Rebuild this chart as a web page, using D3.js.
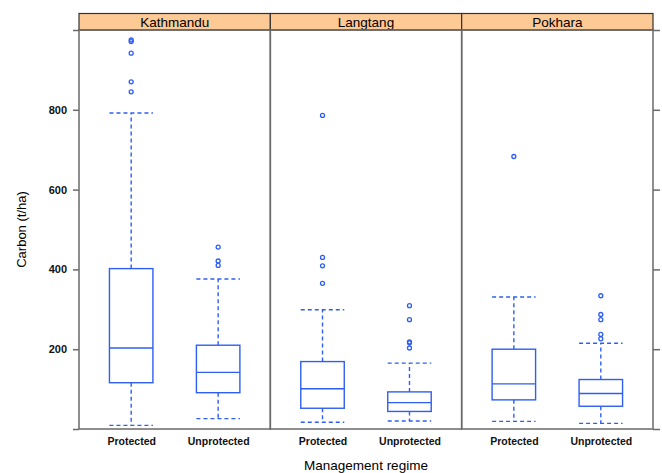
<!DOCTYPE html>
<html>
<head>
<meta charset="utf-8">
<script src="https://cdn.jsdelivr.net/npm/d3@7"></script>
<style>
  html, body { margin: 0; padding: 0; background: #fff; }
  svg { display: block; font-family: "Liberation Sans", Arial, sans-serif; }
</style>
</head>
<body>
<svg id="chart" width="662" height="473"></svg>
<script>
// Carbon stock (t/ha) by region and management regime
const regions = ["Kathmandu", "Langtang", "Pokhara"];
const regimes = ["Protected", "Unprotected"];

// Box statistics per region, in regime order: [Protected, Unprotected]
const whiskerLow  = [[9, 26],   [17, 20],  [19, 14]];
const lowerHinge  = [[116, 91], [52, 44],  [73, 57]];
const medians     = [[203, 142],[101, 66], [113, 89]];
const upperHinge  = [[402, 210],[169, 93], [200, 124]];
const whiskerHigh = [[792, 376],[299, 165],[331, 215]];
const outliers = [
  [[975, 971, 942, 870, 845], [456, 421, 410]],
  [[786, 430, 409, 365],      [309, 274, 218, 216, 203]],
  [[683],                     [334, 287, 274, 237, 226]]
];

const yTicks = [0, 200, 400, 600, 800, 1000];
const yLabelled = [200, 400, 600, 800];

const boxColor = "#2f5ff2";
const frameColor = "#6a6a6a";

const svg = d3.select("#chart");
const plotLeft = 79, plotRight = 653, plotTop = 30, plotBottom = 429;
const stripTop = 13.5;

const y = d3.scaleLinear().domain([0, 1000]).range([plotBottom, plotTop]);
const panelX = d3.scaleBand().domain(regions).range([plotLeft, plotRight]).padding(0);
const pw = panelX.bandwidth();
const xIn = d3.scaleLinear().domain([0.4, 2.6]).range([0, pw]);
const boxHalf = (xIn(1.25) - xIn(1));

regions.forEach((region, ri) => {
  const g = svg.append("g").attr("transform", `translate(${panelX(region)},0)`);

  // strip
  g.append("rect")
    .attr("x", 0).attr("y", stripTop)
    .attr("width", pw).attr("height", plotTop - stripTop)
    .attr("fill", "#fdc994").attr("stroke", "#333").attr("stroke-width", 1.2);
  g.append("text")
    .attr("x", pw / 2).attr("y", plotTop - 3.5)
    .attr("text-anchor", "middle")
    .attr("font-size", 13.5).attr("fill", "#000")
    .text(region);

  regimes.forEach((regime, gi) => {
    const cx = xIn(gi + 1);
    const lo = whiskerLow[ri][gi], q1 = lowerHinge[ri][gi], md = medians[ri][gi],
          q3 = upperHinge[ri][gi], hi = whiskerHigh[ri][gi];
    const bg = g.append("g").attr("stroke", boxColor).attr("fill", "none").attr("stroke-width", 1.4);

    // whiskers (dashed)
    bg.append("line").attr("x1", cx).attr("x2", cx).attr("y1", y(q3)).attr("y2", y(hi))
      .attr("stroke-dasharray", "4,3");
    bg.append("line").attr("x1", cx).attr("x2", cx).attr("y1", y(q1)).attr("y2", y(lo))
      .attr("stroke-dasharray", "4,3");
    bg.append("line").attr("x1", cx - boxHalf).attr("x2", cx + boxHalf).attr("y1", y(hi)).attr("y2", y(hi))
      .attr("stroke-dasharray", "4,3");
    bg.append("line").attr("x1", cx - boxHalf).attr("x2", cx + boxHalf).attr("y1", y(lo)).attr("y2", y(lo))
      .attr("stroke-dasharray", "4,3");

    // box and median
    bg.append("rect").attr("x", cx - boxHalf).attr("y", y(q3))
      .attr("width", 2 * boxHalf).attr("height", y(q1) - y(q3));
    bg.append("line").attr("x1", cx - boxHalf).attr("x2", cx + boxHalf).attr("y1", y(md)).attr("y2", y(md));

    // outliers
    bg.selectAll("circle.out").data(outliers[ri][gi]).join("circle")
      .attr("class", "out").attr("cx", cx).attr("cy", d => y(d)).attr("r", 2)
      .attr("stroke-width", 1.3);
  });

  // category labels
  const xa = d3.axisBottom(d3.scalePoint().domain(regimes).range([xIn(1), xIn(2)]))
    .tickSizeInner(0).tickSizeOuter(0).tickPadding(9);
  const axg = g.append("g").attr("transform", `translate(0,${plotBottom})`).call(xa);
  axg.select(".domain").remove();
  axg.selectAll("text").attr("font-size", 10.5).attr("font-weight", "bold").attr("fill", "#111")
    .attr("font-family", "Liberation Sans, Arial, sans-serif");

  // panel frame
  g.append("rect")
    .attr("x", 0).attr("y", plotTop)
    .attr("width", pw).attr("height", plotBottom - plotTop)
    .attr("fill", "none").attr("stroke", frameColor).attr("stroke-width", 1.5);
});

// y axis: labelled on the left, ticks only on the right
const yl = d3.axisLeft(y).tickValues(yTicks).tickSize(6).tickPadding(6)
  .tickFormat(d => yLabelled.includes(d) ? d : "");
const ylg = svg.append("g").attr("transform", `translate(${plotLeft},0)`).call(yl);
ylg.select(".domain").remove();
ylg.selectAll("line").attr("stroke", frameColor).attr("stroke-width", 1.5);
ylg.selectAll("text").attr("font-size", 11).attr("font-weight", "bold").attr("fill", "#111")
  .attr("font-family", "Liberation Sans, Arial, sans-serif");

const yr = d3.axisRight(y).tickValues(yTicks).tickSize(7).tickFormat("");
const yrg = svg.append("g").attr("transform", `translate(${plotRight},0)`).call(yr);
yrg.select(".domain").remove();
yrg.selectAll("line").attr("stroke", frameColor).attr("stroke-width", 1.5);

// axis titles
svg.append("text")
  .attr("transform", `translate(26,${(plotTop + plotBottom) / 2}) rotate(-90)`)
  .attr("text-anchor", "middle").attr("font-size", 13).attr("fill", "#000")
  .text("Carbon (t/ha)");
svg.append("text")
  .attr("x", (plotLeft + plotRight) / 2).attr("y", 470)
  .attr("text-anchor", "middle").attr("font-size", 13.5).attr("fill", "#000")
  .text("Management regime");
</script>
</body>
</html>
